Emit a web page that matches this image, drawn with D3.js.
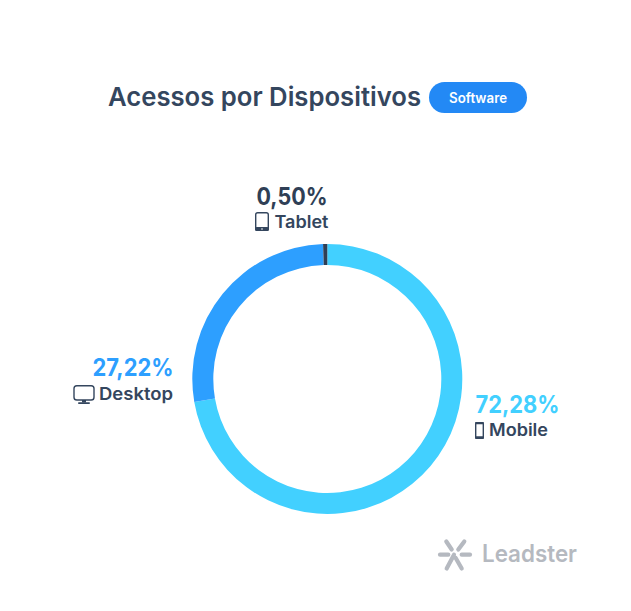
<!DOCTYPE html>
<html>
<head>
<meta charset="utf-8">
<script src="https://cdnjs.cloudflare.com/ajax/libs/d3/7.8.5/d3.min.js"></script>
<style>
  html, body { margin: 0; padding: 0; background: #fff; }
  text { font-family: Inter, "Noto Sans", sans-serif; }
</style>
</head>
<body>
<div id="chart"></div>
<script>
var categories = ['Mobile', 'Desktop', 'Tablet'];
var shares = [72.28, 27.22, 0.50];
var shareLabels = ['72,28%', '27,22%', '0,50%'];
var sliceColors = ['#42d0ff', '#2d9fff', '#2f3f56'];
var labelColors = ['#42d0ff', '#2d9fff', '#2f3f56'];

var width = 631, height = 611;
var cx = 327.3, cy = 379, outerR = 135, innerR = 114;
var ink = '#34465e';

var svg = d3.select('#chart').append('svg')
  .attr('width', width)
  .attr('height', height)
  .style('display', 'block');

// title + badge
svg.append('text')
  .attr('x', 108).attr('y', 106)
  .attr('font-size', 26).attr('font-weight', 600)
  .attr('fill', ink)
  .attr('textLength', 313).attr('lengthAdjust', 'spacingAndGlyphs')
  .text('Acessos por Dispositivos');

svg.append('rect')
  .attr('x', 429).attr('y', 82)
  .attr('width', 98).attr('height', 31)
  .attr('rx', 15.5)
  .attr('fill', '#2389f5');

svg.append('text')
  .attr('x', 449).attr('y', 103)
  .attr('font-size', 14).attr('font-weight', 600)
  .attr('fill', '#fff')
  .attr('textLength', 58).attr('lengthAdjust', 'spacingAndGlyphs')
  .text('Software');

// donut
var pie = d3.pie().sort(null).value(function(d) { return d; });
var arc = d3.arc().innerRadius(innerR).outerRadius(outerR);

svg.append('g')
  .attr('transform', 'translate(' + cx + ',' + cy + ')')
  .selectAll('path')
  .data(pie(shares))
  .enter().append('path')
  .attr('d', arc)
  .attr('fill', function(d, i) { return sliceColors[i]; });

// labels, each with its own anchor and icon
var labelSpots = [
  { x: 475.5, pctY: 413, nameY: 436, anchor: 'start', pctLen: 84, nameX: 489, nameLen: 59 },
  { x: 173.5, pctY: 376, nameY: 399.5, anchor: 'end', pctLen: 81, nameX: 173, nameLen: 74 },
  { x: 292, pctY: 205, nameY: 227.5, anchor: 'middle', pctLen: 71, nameX: 274.5, nameLen: 54 }
];

categories.forEach(function(name, i) {
  var s = labelSpots[i];
  svg.append('text')
    .attr('x', s.x).attr('y', s.pctY)
    .attr('text-anchor', s.anchor)
    .attr('font-size', 24).attr('font-weight', 700)
    .attr('fill', labelColors[i])
    .attr('textLength', s.pctLen).attr('lengthAdjust', 'spacingAndGlyphs')
    .text(shareLabels[i]);
  svg.append('text')
    .attr('x', s.nameX).attr('y', s.nameY)
    .attr('text-anchor', i === 1 ? 'end' : 'start')
    .attr('font-size', 17).attr('font-weight', 600)
    .attr('fill', ink)
    .attr('textLength', s.nameLen).attr('lengthAdjust', 'spacingAndGlyphs')
    .text(name);
});

// device icons
var iconStroke = { fill: 'none', stroke: ink, 'stroke-width': 1.4 };
function outline(sel, attrs) {
  Object.keys(iconStroke).forEach(function(k) { sel.attr(k, iconStroke[k]); });
  Object.keys(attrs).forEach(function(k) { sel.attr(k, attrs[k]); });
  return sel;
}

// tablet
outline(svg.append('rect'), { x: 255.7, y: 212.7, width: 12.6, height: 17.6, rx: 2 });
svg.append('rect').attr('x', 255).attr('y', 227).attr('width', 14).attr('height', 4).attr('rx', 1.5).attr('fill', ink);
svg.append('circle').attr('cx', 262).attr('cy', 229).attr('r', 0.8).attr('fill', '#fff');

// phone
outline(svg.append('rect'), { x: 475.7, y: 422.7, width: 7.6, height: 15.6, rx: 1.6 });
svg.append('rect').attr('x', 475).attr('y', 422).attr('width', 9).attr('height', 2.2).attr('rx', 1).attr('fill', ink);
svg.append('rect').attr('x', 475).attr('y', 436.2).attr('width', 9).attr('height', 2.8).attr('rx', 1).attr('fill', ink);

// monitor
outline(svg.append('rect'), { x: 74, y: 385.7, width: 20, height: 14.3, rx: 2.8 });
svg.append('rect').attr('x', 82).attr('y', 400).attr('width', 4).attr('height', 2.5).attr('fill', ink);
svg.append('rect').attr('x', 78).attr('y', 402.2).attr('width', 12).attr('height', 1.8).attr('rx', 0.9).attr('fill', ink);

// logo
var logoColor = '#b5b9c0';
var logoRays = [
  [446.3, 541.5, 451.7, 549.5], [464.3, 541.5, 458.3, 549.5],
  [440, 554.7, 448.3, 554.7], [461.7, 554.7, 470, 554.7],
  [454, 554.7, 446.7, 568.5], [455.7, 558, 461.7, 568.5]
];
svg.append('g')
  .selectAll('line')
  .data(logoRays)
  .enter().append('line')
  .attr('x1', function(d) { return d[0]; })
  .attr('y1', function(d) { return d[1]; })
  .attr('x2', function(d) { return d[2]; })
  .attr('y2', function(d) { return d[3]; })
  .attr('stroke', logoColor)
  .attr('stroke-width', 4.2)
  .attr('stroke-linecap', 'round');

svg.append('text')
  .attr('x', 482).attr('y', 562)
  .attr('font-size', 24).attr('font-weight', 600)
  .attr('fill', logoColor)
  .attr('textLength', 95).attr('lengthAdjust', 'spacingAndGlyphs')
  .text('Leadster');
</script>
</body>
</html>
